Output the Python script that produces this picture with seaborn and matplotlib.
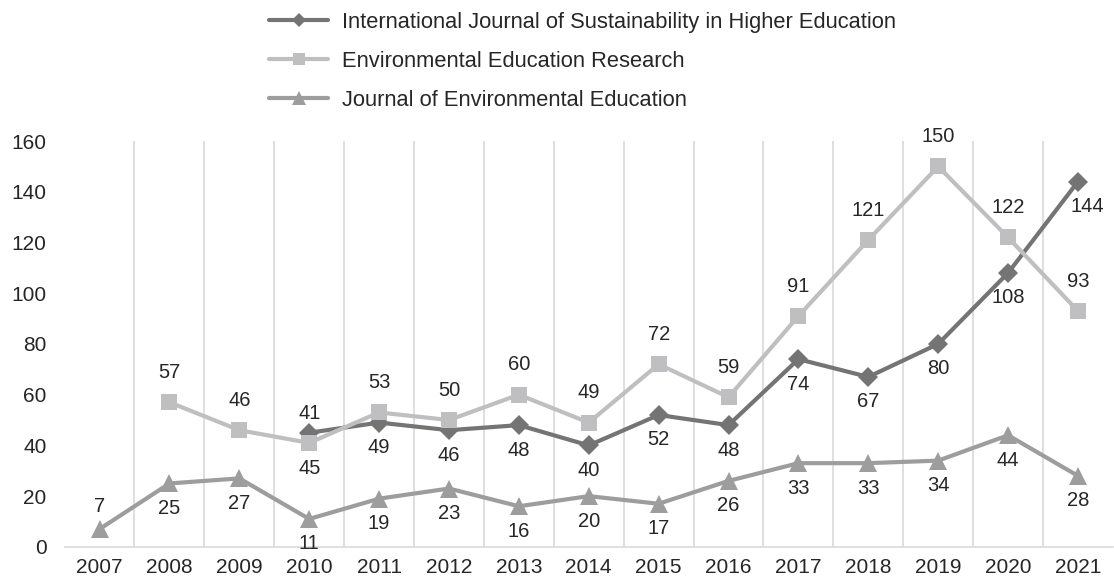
import numpy as np
import pandas as pd
import matplotlib
matplotlib.use("Agg")
import matplotlib.pyplot as plt
import seaborn as sns

years = [str(y) for y in range(2007, 2022)]
series_names = [
    "International Journal of Sustainability in Higher Education",
    "Environmental Education Research",
    "Journal of Environmental Education",
]
ijshe = [np.nan, np.nan, np.nan, 45, 49, 46, 48, 40, 52, 48, 74, 67, 80, 108, 144]
eer = [np.nan, 57, 46, 41, 53, 50, 60, 49, 72, 59, 91, 121, 150, 122, 93]
jee = [7, 25, 27, 11, 19, 23, 16, 20, 17, 26, 33, 33, 34, 44, 28]

sns.set_theme(style="white")
plt.rcParams["font.family"] = ["Liberation Sans", "DejaVu Sans"]

rows = []
for name, vals in zip(series_names, [ijshe, eer, jee]):
    for i, (y, v) in enumerate(zip(years, vals)):
        if not np.isnan(v):
            rows.append({"idx": i, "year": y, "value": v, "series": name})
df = pd.DataFrame(rows)

colors = {series_names[0]: "#747474", series_names[1]: "#bfbfc1", series_names[2]: "#9d9d9d"}
markers = {series_names[0]: "D", series_names[1]: "s", series_names[2]: "^"}
msize = {series_names[0]: 10, series_names[1]: 11, series_names[2]: 13}

fig = plt.figure(figsize=(11.14, 5.83), dpi=100)
ax = fig.add_axes([0.058, 0.062, 0.941, 0.696])

for name in series_names:
    sub = df[df["series"] == name]
    sns.lineplot(data=sub, x="idx", y="value", ax=ax, color=colors[name],
                 marker=markers[name], markersize=msize[name], linewidth=3,
                 markeredgewidth=0, label=name, zorder=3)

fs = 14.5
txtc = "#262626"
# data labels
for i, v in enumerate(eer):
    if not np.isnan(v):
        ax.annotate(f"{int(v)}", (i, v), xytext=(0, 21.5), textcoords="offset points",
                    ha="center", va="center", fontsize=fs, color=txtc)
for i, v in enumerate(ijshe):
    if not np.isnan(v):
        dy = -18
        dx = 0
        if years[i] == "2010":
            dy = -26
        if years[i] == "2021":
            dx = 7
        ax.annotate(f"{int(v)}", (i, v), xytext=(dx, dy), textcoords="offset points",
                    ha="center", va="center", fontsize=fs, color=txtc)
for i, v in enumerate(jee):
    dy = 16 if years[i] == "2007" else -18
    ax.annotate(f"{int(v)}", (i, v), xytext=(0, dy), textcoords="offset points",
                ha="center", va="center", fontsize=fs, color=txtc)

ax.set_xlim(-0.5, len(years) - 0.5)
ax.set_ylim(0, 160)
ax.set_yticks(range(0, 161, 20))
ax.set_xticks(range(len(years)))
ax.set_xticklabels(years)
ax.tick_params(axis="both", labelsize=15, colors=txtc, length=0)
ax.tick_params(axis="y", pad=13)
ax.tick_params(axis="x", pad=8)
ax.set_xlabel("")
ax.set_ylabel("")
for b in np.arange(0.5, len(years) - 0.5, 1.0):
    ax.axvline(b, color="#d9d9d9", linewidth=1.2, zorder=1)
for s in ["top", "right", "left"]:
    ax.spines[s].set_visible(False)
ax.spines["bottom"].set_color("#d9d9d9")
ax.spines["bottom"].set_linewidth(1.2)

leg = ax.legend(loc="upper center", bbox_to_anchor=(0.494, 1.345), ncol=1, frameon=False,
                fontsize=15.75, handlelength=2.7, labelspacing=0.82, handletextpad=0.6,
                borderpad=0, labelcolor=txtc)
for h in leg.legend_handles:
    h.set_markersize(h.get_markersize() * 0.75)

fig.savefig("out.png", dpi=100)
